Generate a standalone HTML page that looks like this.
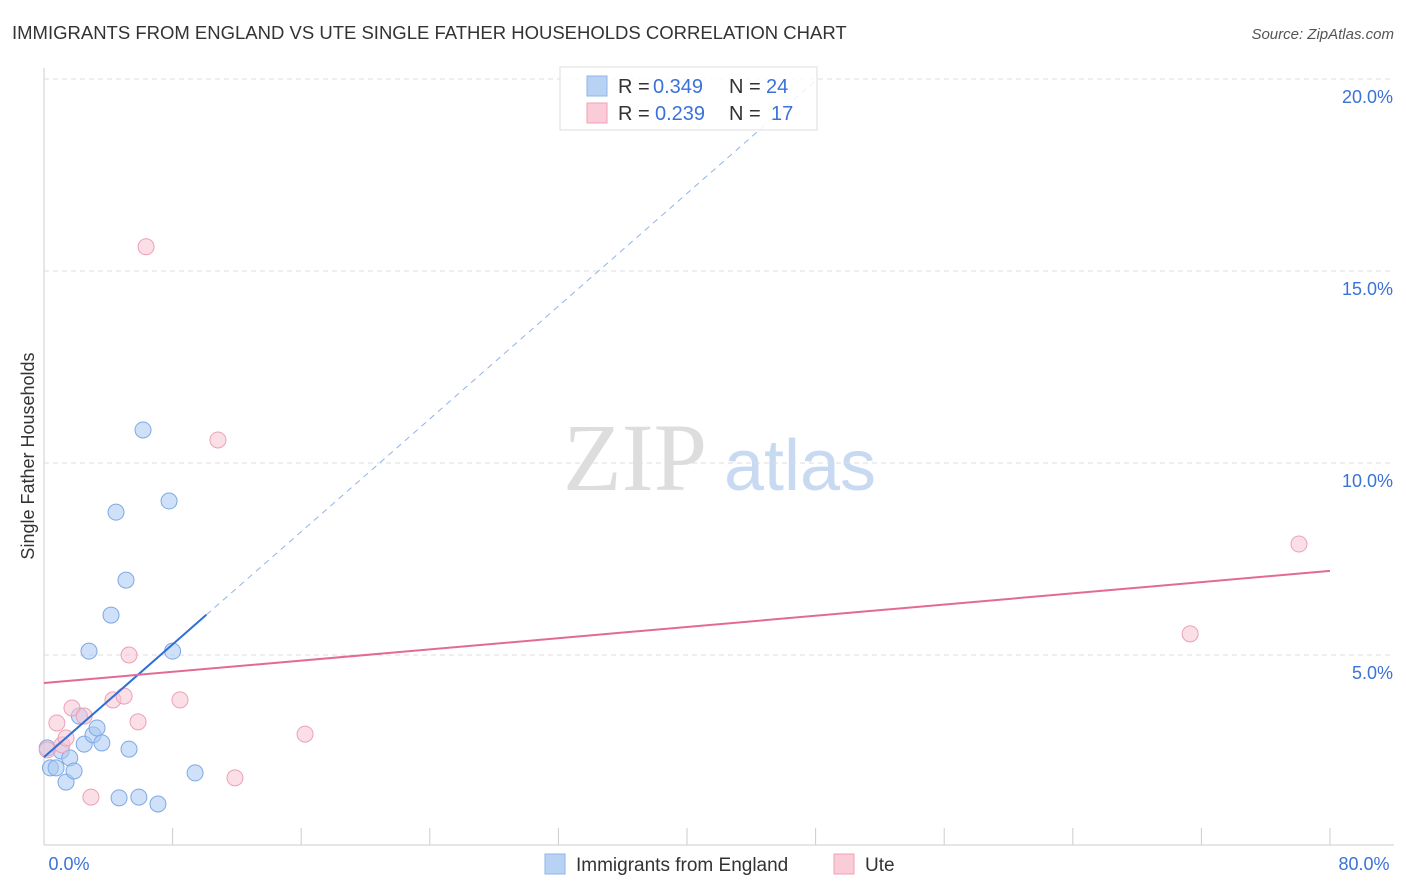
<!DOCTYPE html>
<html><head><meta charset="utf-8"><style>
body{margin:0;background:#fff;font-family:"Liberation Sans",sans-serif;}
svg{display:block}
</style></head><body>
<svg id="c" width="1406" height="892" xmlns="http://www.w3.org/2000/svg">
<text x="12" y="39" font-size="18.5" fill="#333">IMMIGRANTS FROM ENGLAND VS UTE SINGLE FATHER HOUSEHOLDS CORRELATION CHART</text>
<text x="1394" y="39" font-size="15" fill="#555" font-style="italic" text-anchor="end">Source: ZipAtlas.com</text>
<text x="0" y="0" transform="translate(34,456) rotate(-90)" font-size="18" fill="#333" text-anchor="middle">Single Father Households</text>
<g><text x="635" y="490" font-size="96" font-family="Liberation Serif,serif" fill="#ddd" text-anchor="middle">ZIP</text><text x="800" y="490" font-size="72" fill="#c8daf2" text-anchor="middle">atlas</text></g>
<g id="grid"></g><g id="marks"></g>
<g>
<rect x="560" y="67" width="257" height="63" fill="#fff" fill-opacity="0.85" stroke="#ddd"/>
<rect x="587" y="76" width="20" height="20" fill="#b8d2f4" stroke="#8fb4e8"/>
<text x="618" y="93" font-size="20" fill="#333">R =</text>
<text x="653" y="93" font-size="20" fill="#3a72d8">0.349</text>
<text x="729" y="93" font-size="20" fill="#333">N =</text>
<text x="766" y="93" font-size="20" fill="#3a72d8">24</text>
<rect x="587" y="103" width="20" height="20" fill="#f9ccd8" stroke="#f0a0b8"/>
<text x="618" y="120" font-size="20" fill="#333">R =</text>
<text x="655" y="120" font-size="20" fill="#3a72d8">0.239</text>
<text x="729" y="120" font-size="20" fill="#333">N =</text>
<text x="771" y="120" font-size="20" fill="#3a72d8">17</text>
</g>
<g>
<rect x="545" y="854" width="20" height="20" fill="#b8d2f4" stroke="#8fb4e8"/>
<text x="576" y="871" font-size="19" fill="#333">Immigrants from England</text>
<rect x="834" y="854" width="20" height="20" fill="#f9ccd8" stroke="#f0a0b8"/>
<text x="865" y="871" font-size="19" fill="#333">Ute</text>
</g>
</svg>
<script>
const xTicks=[0,8,16,24,32,40,48,56,64,72,80];
const yTicks=[5,10,15,20];
const blueX=[0.2,0.4,0.75,1.06,1.37,1.6,1.87,2.2,2.5,2.8,3.05,3.3,3.6,4.17,4.48,4.67,5.1,5.29,5.9,6.16,7.09,7.78,8.0,9.4];
const blueY=[2.58,2.06,2.06,2.5,1.69,2.32,1.98,3.41,2.68,5.1,2.92,3.1,2.71,6.04,8.72,1.28,6.95,2.55,1.3,10.86,1.12,9.01,5.1,1.93];
const pinkX=[0.2,0.8,1.12,1.37,1.74,2.5,2.92,4.29,4.98,5.29,5.85,6.35,8.46,10.82,11.88,16.24,71.3,78.07];
const pinkY=[2.53,3.23,2.66,2.84,3.62,3.41,1.3,3.83,3.93,5.0,3.26,15.63,3.83,10.6,1.8,2.94,5.55,7.89];
const blueFit=[2.34,0.367];
const pinkFit=[4.27,0.0365];
const NS='http://www.w3.org/2000/svg';
const X=v=>44+v*16.075, Y=v=>847-v*38.4;
function mk(t,a,p){const e=document.createElementNS(NS,t);for(const k in a)e.setAttribute(k,a[k]);p.appendChild(e);return e;}
const g=document.getElementById('grid'),m=document.getElementById('marks');
let ax=mk('line',{x1:44,y1:845,x2:1394,y2:845,stroke:'#ccc'},g);


let ay=mk('line',{x1:44,y1:68,x2:44,y2:845,stroke:'#ccc'},g);


xTicks.forEach(t=>{const l=mk('line',{x1:X(t),y1:828,x2:X(t),y2:845,stroke:'#ccc'},g);

});
[[0,'0.0%',69],[80,'80.0%',1364]].forEach(([v,s,px])=>{const t=mk('text',{x:px,y:870,'font-size':18,fill:'#3a72d8','text-anchor':'middle'},g);t.textContent=s;

});
yTicks.forEach(v=>{const l=mk('line',{x1:44,y1:Y(v),x2:1394,y2:Y(v),stroke:'#ddd','stroke-dasharray':'5,4'},g);


const t=mk('text',{x:1393,y:Y(v)+24,'font-size':18,fill:'#3a72d8','text-anchor':'end'},g);t.textContent=v.toFixed(1)+'%';

});
blueX.forEach((x,i)=>{const c=mk('circle',{cx:X(x),cy:Y(blueY[i]),r:8,fill:'rgba(168,200,242,0.55)',stroke:'#7ea8e4','stroke-width':1},m);

});
pinkX.forEach((x,i)=>{const c=mk('circle',{cx:X(x),cy:Y(pinkY[i]),r:8,fill:'rgba(248,196,212,0.55)',stroke:'#eea0b8','stroke-width':1},m);

});
const bf=x=>blueFit[0]+blueFit[1]*x, pf=x=>pinkFit[0]+pinkFit[1]*x;
const xe=(20-blueFit[0])/blueFit[1];
let d=mk('line',{x1:X(10.1),y1:Y(bf(10.1)),x2:X(xe),y2:Y(20),stroke:'#8fb4e8','stroke-dasharray':'6,5','stroke-width':1},m);


let b=mk('line',{x1:X(0),y1:Y(bf(0)),x2:X(10.1),y2:Y(bf(10.1)),stroke:'#2f6fd6','stroke-width':2},m);


let p=mk('line',{x1:X(0),y1:Y(pf(0)),x2:X(80),y2:Y(pf(80)),stroke:'#e46a96','stroke-width':2},m);


</script>
</body></html>
